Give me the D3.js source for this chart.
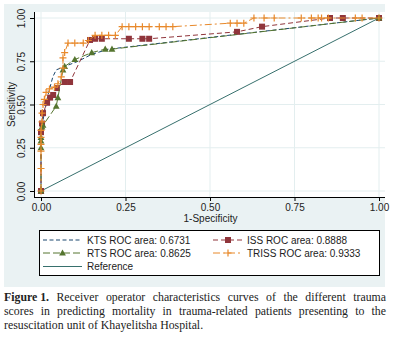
<!DOCTYPE html>
<html>
<head>
<meta charset="utf-8">
<script src="https://cdn.jsdelivr.net/npm/d3@7"></script>
<style>
  body { margin: 0; background: #fff; }
  svg { display: block; }
</style>
</head>
<body>
<div id="chart"></div>
<script>
// ROC points: [1-specificity, sensitivity]
const ktsPoints = [[0,0],[0,0.35],[0.01,0.45],[0.02,0.55],[0.035,0.66],[0.045,0.70],[0.07,0.72],[0.11,0.75],[0.15,0.79],[0.2,0.82],[1,1]];
const issPoints = [[0,0],[0,0.34],[0.003,0.39],[0.006,0.45],[0.018,0.51],[0.027,0.54],[0.036,0.555],[0.047,0.595],[0.07,0.63],[0.086,0.63],[0.145,0.873],[0.16,0.88],[0.18,0.88],[0.26,0.88],[0.3,0.88],[0.32,0.88],[0.58,0.92],[0.654,0.95],[0.855,1],[0.893,1],[1,1]];
const rtsPoints = [[0,0],[0,0.25],[0,0.29],[0,0.31],[0.003,0.37],[0.006,0.38],[0.045,0.49],[0.05,0.54],[0.065,0.70],[0.07,0.72],[0.1,0.76],[0.15,0.80],[0.19,0.82],[0.21,0.82],[1,1]];
const trissPoints = [[0,0],[0,0.13],[0,0.23],[0,0.27],[0,0.31],[0,0.35],[0.003,0.40],[0.003,0.45],[0.006,0.50],[0.01,0.53],[0.015,0.57],[0.025,0.59],[0.04,0.60],[0.05,0.62],[0.06,0.66],[0.065,0.71],[0.065,0.77],[0.07,0.80],[0.08,0.855],[0.1,0.855],[0.125,0.855],[0.14,0.87],[0.16,0.90],[0.18,0.90],[0.2,0.90],[0.22,0.90],[0.24,0.95],[0.26,0.95],[0.28,0.95],[0.3,0.95],[0.32,0.95],[0.35,0.95],[0.37,0.95],[0.39,0.95],[0.56,0.97],[0.58,0.97],[0.6,0.97],[0.63,1],[0.66,1],[0.69,1],[0.77,1],[0.8,1],[0.82,1],[0.83,1],[0.85,1],[0.93,1],[0.95,1],[1,1]];
const refPoints = [[0,0],[1,1]];

const tickValues = [0, 0.25, 0.5, 0.75, 1];
const legendLabels = ["KTS ROC area: 0.6731", "ISS ROC area: 0.8888", "RTS ROC area: 0.8625", "TRISS ROC area: 0.9333", "Reference"];
const captionLines = [
  "Receiver operator characteristics curves of the different trauma",
  "scores in predicting mortality in trauma-related patients presenting to the",
  "resuscitation unit of Khayelitsha Hospital."
];

const W = 394, H = 344;
const svg = d3.select("#chart").append("svg").attr("width", W).attr("height", H);

// outer graph region (Stata s2color)
svg.append("rect").attr("x", 4).attr("y", 4).attr("width", 381).attr("height", 283).attr("fill", "#eaf2f3");
svg.append("rect").attr("x", 34).attr("y", 12).attr("width", 351).attr("height", 185).attr("fill", "#fff");

const x = d3.scaleLinear().domain([0, 1]).range([41, 379]);
const y = d3.scaleLinear().domain([0, 1]).range([191, 18]);

// gridlines
svg.append("g").selectAll("line.h").data(tickValues).join("line")
  .attr("x1", 34).attr("x2", 385).attr("y1", d => y(d)).attr("y2", d => y(d))
  .attr("stroke", "#e3eeef").attr("stroke-width", 1);
svg.append("g").selectAll("line.v").data(tickValues).join("line")
  .attr("y1", 12).attr("y2", 197).attr("x1", d => x(d)).attr("x2", d => x(d))
  .attr("stroke", "#e3eeef").attr("stroke-width", 1);

// axes
const yAxis = svg.append("g").attr("transform", "translate(34,0)")
  .call(d3.axisLeft(y).tickValues(tickValues).tickFormat(d3.format(".2f")).tickSize(4).tickSizeOuter(0));
yAxis.select(".domain").attr("d", "M0.5,12V197");
yAxis.selectAll("text")
  .attr("transform", "translate(-9.5,0) rotate(-90)")
  .attr("x", 0).attr("y", 0).attr("dy", 0).attr("text-anchor", "middle");

const xAxis = svg.append("g").attr("transform", "translate(0,197)")
  .call(d3.axisBottom(x).tickValues(tickValues).tickFormat(d3.format(".2f")).tickSize(4).tickSizeOuter(0));
xAxis.select(".domain").attr("d", "M34,0.5H385");
xAxis.selectAll("text").attr("y", 7);

svg.selectAll(".tick text").attr("font-family", "Liberation Sans, Arial, sans-serif").attr("font-size", 10).attr("fill", "#222");
svg.selectAll(".tick line").attr("stroke", "#000");
svg.selectAll(".domain").attr("stroke", "#000");

svg.append("text").attr("transform", `translate(15,${y(0.5)}) rotate(-90)`)
  .attr("text-anchor", "middle").attr("font-family", "Liberation Sans, Arial, sans-serif").attr("font-size", 10)
  .attr("fill", "#222").text("Sensitivity");
svg.append("text").attr("x", 210.5).attr("y", 222)
  .attr("text-anchor", "middle").attr("font-family", "Liberation Sans, Arial, sans-serif").attr("font-size", 10)
  .attr("fill", "#222").text("1-Specificity");

const line = d3.line().x(d => x(d[0])).y(d => y(d[1]));

const series = [
  {pts: refPoints, color: "#37706d", dash: null, marker: null},
  {pts: ktsPoints, color: "#1a476f", dash: "4,2.5", marker: null},
  {pts: issPoints, color: "#90353b", dash: "5,3", marker: "square"},
  {pts: rtsPoints, color: "#55752f", dash: "7,3", marker: "triangle"},
  {pts: trissPoints, color: "#e8892b", dash: "7,3,2,3", marker: "plus"}
];

function drawMarker(g, kind, color) {
  if (kind === "square") {
    g.append("rect").attr("x", -3).attr("y", -3).attr("width", 6).attr("height", 6).attr("fill", color);
  } else if (kind === "triangle") {
    g.append("path").attr("d", "M0,-3.6L3.4,2.6L-3.4,2.6Z").attr("fill", color);
  } else if (kind === "plus") {
    g.append("path").attr("d", "M-3.5,0H3.5M0,-3.5V3.5").attr("stroke", color).attr("stroke-width", 1.2).attr("fill", "none");
  }
}

series.forEach(s => {
  svg.append("path").datum(s.pts).attr("d", line)
    .attr("fill", "none").attr("stroke", s.color).attr("stroke-width", 1)
    .attr("stroke-dasharray", s.dash);
  if (s.marker) {
    svg.append("g").selectAll("g").data(s.pts).join("g")
      .attr("transform", d => `translate(${x(d[0])},${y(d[1])})`)
      .each(function() { drawMarker(d3.select(this), s.marker, s.color); });
  }
});

// legend
svg.append("rect").attr("x", 39.5).attr("y", 230.5).attr("width", 340).attr("height", 45)
  .attr("fill", "#fff").attr("stroke", "#000").attr("stroke-width", 1);
const legendItems = [
  {s: series[1], col: 0, row: 0, label: legendLabels[0]},
  {s: series[2], col: 1, row: 0, label: legendLabels[1]},
  {s: series[3], col: 0, row: 1, label: legendLabels[2]},
  {s: series[4], col: 1, row: 1, label: legendLabels[3]},
  {s: series[0], col: 0, row: 2, label: legendLabels[4]}
];
const colX = [[43, 82, 87], [213, 243, 247]];
const rowY = [240, 253, 266.5];
legendItems.forEach(it => {
  const [x1, x2, tx] = colX[it.col];
  const yy = rowY[it.row];
  svg.append("line").attr("x1", x1).attr("x2", x2).attr("y1", yy).attr("y2", yy)
    .attr("stroke", it.s.color).attr("stroke-width", 1).attr("stroke-dasharray", it.s.dash);
  if (it.s.marker) {
    const g = svg.append("g").attr("transform", `translate(${(x1 + x2) / 2},${yy})`);
    drawMarker(g, it.s.marker, it.s.color);
  }
  svg.append("text").attr("x", tx).attr("y", yy + 3.6)
    .attr("font-family", "Liberation Sans, Arial, sans-serif").attr("font-size", 10).attr("fill", "#222")
    .text(it.label);
});

// caption, justified word by word
const cap = svg.append("g").attr("font-family", "Liberation Serif, Times New Roman, serif").attr("font-size", 11.8).attr("fill", "#222");
const capLeft = 4, capRight = 386, capY = [301, 315, 329];
captionLines.forEach((txt, i) => {
  const words = txt.split(" ");
  const nodes = [];
  if (i === 0) {
    const b = cap.append("text").attr("y", capY[i]).attr("font-weight", "bold").text("Figure 1.");
    nodes.push(b);
  }
  words.forEach(w => nodes.push(cap.append("text").attr("y", capY[i]).text(w)));
  const widths = nodes.map(n => n.node().getComputedTextLength());
  const total = d3.sum(widths);
  const last = i === captionLines.length - 1;
  const gap = last ? 3 : (capRight - capLeft - total) / (nodes.length - 1);
  let cx = capLeft;
  nodes.forEach((n, k) => { n.attr("x", cx); cx += widths[k] + gap; });
});
</script>
</body>
</html>
